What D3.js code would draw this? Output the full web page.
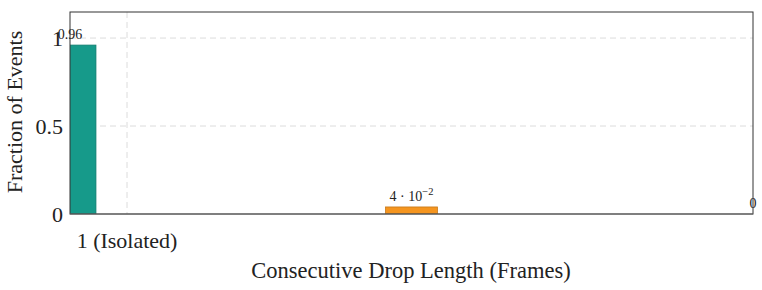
<!DOCTYPE html>
<html>
<head>
<meta charset="utf-8">
<script src="https://cdn.jsdelivr.net/npm/d3@7"></script>
<style>
  body { margin: 0; background: #fff; }
  svg { font-family: "Liberation Serif", "DejaVu Serif", serif; }
</style>
</head>
<body>
<div id="chart"></div>
<script>
// data
const positions = [0, 1, 2];
const values = [0.96, 0.04, 0];
const barLabels = ["0.96", "4 · 10", "0"];
const barLabelExp = ["", "−2", ""];
const barColors = ["#169a8a", "#f5951f", "#f5951f"];
const xTickValues = [0.167];
const xTickLabels = ["1 (Isolated)"];
const yTickValues = [0, 0.5, 1];
const yTickLabels = ["0", "0.5", "1"];

// layout
const width = 762, height = 290;
const margin = { top: 12, right: 9, bottom: 76, left: 70 };
const w = width - margin.left - margin.right;
const h = height - margin.top - margin.bottom;
const barWidth = 0.152;

const x = d3.scaleLinear().domain([0, 2]).range([0, w]);
const y = d3.scaleLinear().domain([0, 1.148]).range([h, 0]);

const svg = d3.select("#chart")
    .append("svg")
    .attr("width", width)
    .attr("height", height);

const g = svg.append("g")
    .attr("transform", `translate(${margin.left},${margin.top})`);

svg.append("defs").append("clipPath")
    .attr("id", "clip")
    .append("rect")
    .attr("width", w)
    .attr("height", h);

// grid lines
g.append("g")
    .selectAll("line")
    .data(yTickValues.filter(d => d > 0))
    .enter().append("line")
    .attr("x1", 0).attr("x2", w)
    .attr("y1", d => y(d)).attr("y2", d => y(d))
    .attr("stroke", "#dcdcdc")
    .attr("stroke-dasharray", "6,4");

g.append("g")
    .selectAll("line")
    .data(xTickValues)
    .enter().append("line")
    .attr("x1", d => x(d)).attr("x2", d => x(d))
    .attr("y1", 0).attr("y2", h)
    .attr("stroke", "#dcdcdc")
    .attr("stroke-dasharray", "6,4");

// bars (skip empty ones)
g.append("g")
    .attr("clip-path", "url(#clip)")
    .selectAll("rect")
    .data(positions.filter((d, i) => values[i] > 0))
    .enter().append("rect")
    .attr("x", (d) => x(d - barWidth / 2))
    .attr("width", x(barWidth) - x(0))
    .attr("y", d => y(values[d]))
    .attr("height", d => y(0) - y(values[d]))
    .attr("fill", d => barColors[d])
    .attr("stroke", d => d3.color(barColors[d]).darker(0.6))
    .attr("stroke-width", 0.8);

// frame
g.append("rect")
    .attr("width", w)
    .attr("height", h)
    .attr("fill", "none")
    .attr("stroke", "#333")
    .attr("stroke-width", 1);
g.append("line")
    .attr("x1", 0).attr("x2", w)
    .attr("y1", h).attr("y2", h)
    .attr("stroke", "#666")
    .attr("stroke-width", 1.2);

// bar labels
const lab = g.append("g")
    .selectAll("text")
    .data(positions)
    .enter().append("text")
    .attr("x", d => x(d))
    .attr("y", (d, i) => y(values[i]) - 6)
    .attr("text-anchor", "middle")
    .attr("font-size", 14)
    .attr("fill", "#222")
    .text((d, i) => barLabels[i]);
lab.filter(d => barLabelExp[d] !== "")
    .append("tspan")
    .attr("dy", -6)
    .attr("font-size", 10.5)
    .text(d => barLabelExp[d]);

// y ticks
g.append("g")
    .selectAll("text")
    .data(yTickValues)
    .enter().append("text")
    .attr("x", -7)
    .attr("y", d => y(d))
    .attr("dy", "0.35em")
    .attr("text-anchor", "end")
    .attr("font-size", 22)
    .attr("fill", "#222")
    .text((d, i) => yTickLabels[i]);

// x ticks
g.append("g")
    .selectAll("text")
    .data(xTickValues)
    .enter().append("text")
    .attr("x", d => x(d))
    .attr("y", h + 34)
    .attr("text-anchor", "middle")
    .attr("font-size", 22)
    .attr("fill", "#222")
    .text((d, i) => xTickLabels[i]);

// axis titles
svg.append("text")
    .attr("x", 411)
    .attr("y", 278)
    .attr("text-anchor", "middle")
    .attr("font-size", 22.5)
    .attr("fill", "#222")
    .text("Consecutive Drop Length (Frames)");

svg.append("text")
    .attr("transform", `translate(22,${margin.top + h / 2 - 1}) rotate(-90)`)
    .attr("text-anchor", "middle")
    .attr("font-size", 22)
    .attr("fill", "#222")
    .text("Fraction of Events");
</script>
</body>
</html>
